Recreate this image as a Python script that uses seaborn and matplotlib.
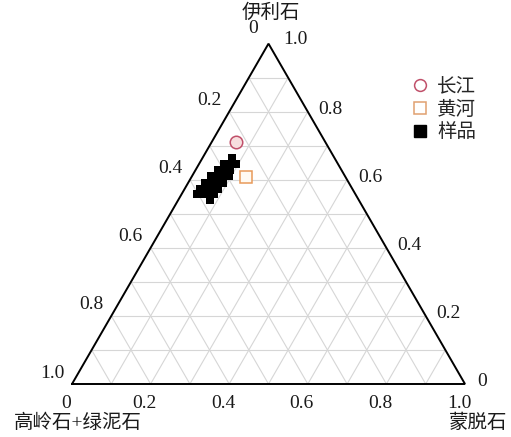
import numpy as np
import pandas as pd
import matplotlib
matplotlib.use("Agg")
import matplotlib.pyplot as plt
import matplotlib.transforms as mtransforms
from matplotlib.lines import Line2D
import seaborn as sns

# Clay mineral composition (fractions): smectite (蒙脱石) and illite (伊利石);
# kaolinite + chlorite is the remainder.
sample_smectite = [0.075,
                   0.063, 0.079, 0.094,
                   0.057, 0.072, 0.087,
                   0.048, 0.063, 0.078, 0.094,
                   0.043, 0.058, 0.073, 0.089,
                   0.039, 0.054, 0.069, 0.085,
                   0.039, 0.054, 0.069, 0.082,
                   0.081]
sample_illite = [0.665,
                 0.647, 0.647, 0.647,
                 0.629, 0.629, 0.629,
                 0.612, 0.612, 0.612, 0.612,
                 0.591, 0.591, 0.591, 0.591,
                 0.574, 0.574, 0.574, 0.574,
                 0.559, 0.559, 0.559, 0.559,
                 0.541]

yangtze_smectite, yangtze_illite = 0.061, 0.711   # 长江
yellow_smectite, yellow_illite = 0.138, 0.609     # 黄河

bottom_ticks = [0, 0.2, 0.4, 0.6, 0.8, 1.0]
bottom_tick_labels = ["0", "0.2", "0.4", "0.6", "0.8", "1.0"]

H = np.sqrt(3) / 2


def to_xy(smectite, illite):
    s = np.asarray(smectite, dtype=float)
    i = np.asarray(illite, dtype=float)
    return s + i / 2, i * H


sns.set_theme(style="white")
plt.rcParams["font.family"] = ["Liberation Serif", "Noto Sans CJK SC", "DejaVu Sans"]
plt.rcParams["font.size"] = 14

fig = plt.figure(figsize=(5.11, 4.37), dpi=100)
ax = fig.add_axes([0, 0, 1, 1])
ax.set_xlim(-72 / 393, (511 - 72) / 393)
ax.set_ylim((384 - 437) / 393, 384 / 393)
ax.axis("off")

# grid at 0.1 steps
grid_kw = dict(color="#d6d6d6", lw=0.8, zorder=1)
for k in range(1, 10):
    t = k / 10
    # constant illite
    x, y = to_xy([0, 1 - t], [t, t])
    ax.plot(x, y, **grid_kw)
    # constant smectite
    x, y = to_xy([t, t], [0, 1 - t])
    ax.plot(x, y, **grid_kw)
    # constant kaolinite+chlorite
    x, y = to_xy([1 - t, 0], [0, 1 - t])
    ax.plot(x, y, **grid_kw)

# triangle frame
x, y = to_xy([0, 1, 0, 0], [0, 0, 1, 0])
ax.plot(x, y, color="black", lw=1.4, zorder=2, solid_joinstyle="miter")


def label_at(xd, yd, text, dx, dy):
    tr = mtransforms.offset_copy(ax.transData, fig=fig, x=dx * 0.72, y=-dy * 0.72, units="points")
    ax.text(xd, yd, text, transform=tr, ha="center", va="center", fontsize=14, color="#1a1a1a")


for v, lab in zip(bottom_ticks, bottom_tick_labels):
    # bottom axis: smectite
    xb, yb = to_xy(v, 0)
    label_at(xb, yb, lab, -6, 19)
    # left axis: kaolinite+chlorite (0 at apex, 1 at lower-left)
    xl, yl = to_xy(0, 1 - v)
    if v == 0:
        label_at(xl, yl, lab, -15, -15)
    else:
        label_at(xl, yl, lab, -20, -11)
    # right axis: illite (1 at apex, 0 at lower-right)
    xr, yr = to_xy(1 - v, v)
    if v == 0:
        label_at(xr, yr, lab, 17, -2)
    elif v == 1.0:
        label_at(xr, yr, lab, 27, -4)
    else:
        label_at(xr, yr, lab, 23, -2)

# corner titles
xa, ya = to_xy(0, 1)
label_at(xa, ya, "伊利石", 2, -31)
xk, yk = to_xy(0, 0)
label_at(xk, yk, "高岭石+绿泥石", 6, 39)
xm, ym = to_xy(1, 0)
label_at(xm, ym, "蒙脱石", 13, 39)

# samples
sx, sy = to_xy(sample_smectite, sample_illite)
df = pd.DataFrame({"x": sx, "y": sy})
sns.scatterplot(data=df, x="x", y="y", marker="s", s=30, color="black",
                linewidth=0, ax=ax, zorder=4, legend=False)

cx, cy = to_xy(yangtze_smectite, yangtze_illite)
ax.plot([cx], [cy], marker="o", ms=9, mfc="#f7dede", mec="#c0506a", mew=1.1,
        ls="none", zorder=5)
qx, qy = to_xy(yellow_smectite, yellow_illite)
ax.plot([qx], [qy], marker="s", ms=9, mfc="#fffaf2", mec="#e89a5a", mew=1.1,
        ls="none", zorder=5)

handles = [
    Line2D([], [], marker="o", ms=8.5, mfc="white", mec="#c0506a", mew=1.1, ls="none"),
    Line2D([], [], marker="s", ms=8.5, mfc="white", mec="#e0a070", mew=1.1, ls="none"),
    Line2D([], [], marker="s", ms=8.5, mfc="black", mec="black", ls="none"),
]
ax.legend(handles, ["长江", "黄河", "样品"], loc="upper left",
          bbox_to_anchor=(410 / 511, 1 - 78 / 437), frameon=False,
          borderpad=0, borderaxespad=0, handlelength=1.0, handletextpad=0.4,
          labelspacing=0.25, fontsize=14)

fig.savefig("out.png", dpi=100, facecolor="white")
